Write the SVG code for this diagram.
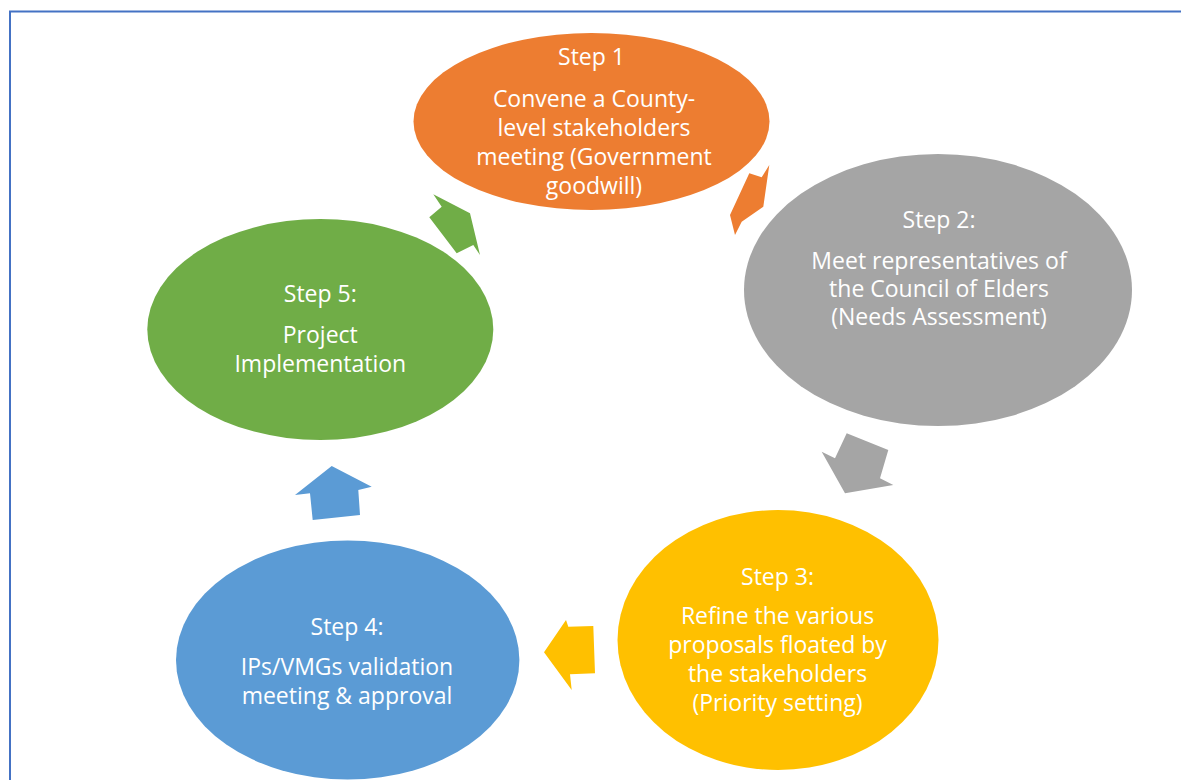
<svg xmlns="http://www.w3.org/2000/svg" width="1181" height="780" viewBox="0 0 1181 780">
  <style>
    .t { font-family: "Open Sans", "Liberation Sans", sans-serif; font-size: 23px; fill: #ffffff; text-anchor: middle; }
  </style>
  <rect x="0" y="0" width="1181" height="780" fill="#ffffff"/>
  <path d="M10,780 V11.5 H1181" fill="none" stroke="#4472C4" stroke-width="2"/>

  <g id="connectors">
    <polygon points="749.3,173.3 761.7,177.3 769.3,165 763.3,206.7 741.7,221.7 735,235 730,215" fill="#ED7D31"/>
    <polygon points="846.7,433.3 888.3,450 880,478.3 893.3,485 845,493.3 821.7,451.7 835,458.3" fill="#A5A5A5"/>
    <polygon points="566,620 568.3,626.7 593.3,626 595,673.3 570,674.3 571.7,690 544,652.3" fill="#FFC000"/>
    <polygon points="331.7,466 371.7,486.7 358.3,490 360,515 312.7,520 310,493.3 295,495" fill="#5B9BD5"/>
    <polygon points="433.3,194.3 470,213.3 480,255 473.3,245 456.7,253.3 429.3,217.3 441.7,206.7" fill="#70AD47"/>
  </g>

  <g id="step1">
    <ellipse cx="591.5" cy="121.5" rx="178" ry="88.5" fill="#ED7D31"/>
    <text class="t" x="591.5" y="65">Step 1</text>
    <text class="t" x="594" y="107">Convene a County-</text>
    <text class="t" x="594" y="136">level stakeholders</text>
    <text class="t" x="594" y="165">meeting (Government</text>
    <text class="t" x="594" y="194">goodwill)</text>
  </g>

  <g id="step2">
    <ellipse cx="938" cy="290" rx="194" ry="136" fill="#A5A5A5"/>
    <text class="t" x="939" y="228">Step 2:</text>
    <text class="t" x="939" y="269">Meet representatives of</text>
    <text class="t" x="939" y="297">the Council of Elders</text>
    <text class="t" x="939" y="325">(Needs Assessment)</text>
  </g>

  <g id="step3">
    <ellipse cx="778" cy="640" rx="160.5" ry="130" fill="#FFC000"/>
    <text class="t" x="777.5" y="585">Step 3:</text>
    <text class="t" x="777.5" y="624">Refine the various</text>
    <text class="t" x="777.5" y="653">proposals floated by</text>
    <text class="t" x="777.5" y="682">the stakeholders</text>
    <text class="t" x="777.5" y="711">(Priority setting)</text>
  </g>

  <g id="step4">
    <ellipse cx="347.7" cy="660" rx="171.7" ry="119.5" fill="#5B9BD5"/>
    <text class="t" x="347" y="635">Step 4:</text>
    <text class="t" x="347" y="675">IPs/VMGs validation</text>
    <text class="t" x="347" y="704">meeting &amp; approval</text>
  </g>

  <g id="step5">
    <ellipse cx="320.3" cy="329.5" rx="173" ry="110.5" fill="#70AD47"/>
    <text class="t" x="320.3" y="301.5">Step 5:</text>
    <text class="t" x="320.3" y="343">Project</text>
    <text class="t" x="320.3" y="371.5">Implementation</text>
  </g>
</svg>
